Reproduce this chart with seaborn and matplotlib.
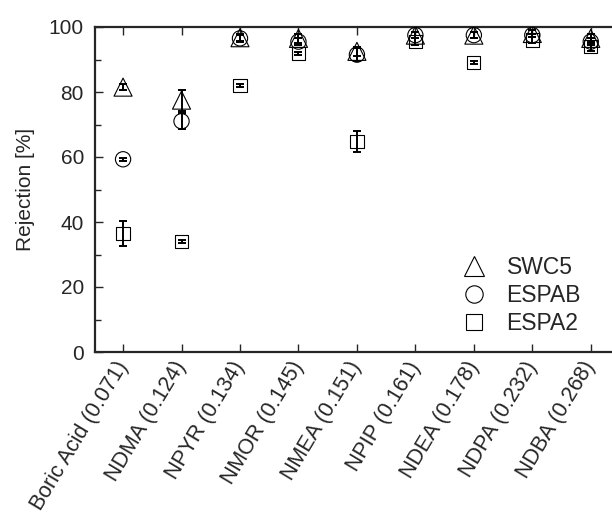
import matplotlib
matplotlib.use("Agg")
import matplotlib.pyplot as plt
from matplotlib.lines import Line2D
from matplotlib.ticker import MultipleLocator
import seaborn as sns
import pandas as pd

compounds = ["Boric Acid (0.071)", "NDMA (0.124)", "NPYR (0.134)", "NMOR (0.145)",
             "NMEA (0.151)", "NPIP (0.161)", "NDEA (0.178)", "NDPA (0.232)", "NDBA (0.268)"]
series = ["SWC5", "ESPAB", "ESPA2"]

swc5 = [81.5, 77.5, 96.7, 96.5, 92.5, 97.5, 97.5, 98.0, 96.5]
espab = [59.3, 71.0, 96.5, 95.5, 91.5, 97.5, 97.5, 97.5, 95.5]
espa2 = [36.5, 34.0, 82.0, 91.8, 64.7, 95.5, 89.0, 96.0, 94.0]

swc5_err = [1.0, 3.2, 1.0, 1.5, 1.5, 1.0, 1.0, 1.0, 1.5]
espab_err = [0.5, 2.5, 1.0, 1.0, 2.0, 1.0, 1.0, 0.5, 1.0]
espa2_err = [3.8, 0.5, 0.5, 0.5, 3.2, 1.0, 0.5, 1.0, 1.5]

rows = []
for name, vals, errs in [("SWC5", swc5, swc5_err), ("ESPAB", espab, espab_err), ("ESPA2", espa2, espa2_err)]:
    for i, c in enumerate(compounds):
        rows.append({"compound": c, "pos": i, "series": name, "rejection": vals[i], "err": errs[i]})
df = pd.DataFrame(rows)

sns.set_theme(style="ticks")
plt.rcParams["font.family"] = ["Liberation Sans", "DejaVu Sans"]

fig = plt.figure(figsize=(6.12, 5.19), dpi=100)
ax = fig.add_axes([95 / 612, 167 / 519, 525 / 612, 325 / 519])

marker_map = {"SWC5": "^", "ESPAB": "o", "ESPA2": "s"}
size_map = {"SWC5": 13, "ESPAB": 11, "ESPA2": 9.5}

for name in series:
    sub = df[df["series"] == name]
    ax.errorbar(sub["pos"], sub["rejection"], yerr=sub["err"], fmt="none",
                ecolor="black", elinewidth=1.4, capsize=3, capthick=1.4, zorder=3)
    sns.scatterplot(data=sub, x="pos", y="rejection", marker=marker_map[name],
                    s=size_map[name] ** 2, ax=ax, zorder=4, legend=False)
    coll = ax.collections[-1]
    coll.set_facecolor("none")
    coll.set_edgecolor("black")
    coll.set_linewidth(0.8)

ax.set_xlim(-0.48, 8.5)
ax.set_ylim(0, 100)
ax.set_xticks(range(len(compounds)))
ax.set_xticklabels(compounds, rotation=59, ha="right", va="center", rotation_mode="anchor", fontsize=15.5)
ax.yaxis.set_major_locator(MultipleLocator(20))
ax.yaxis.set_minor_locator(MultipleLocator(10))
ax.tick_params(axis="y", which="major", direction="in", length=6, width=1, labelsize=15, pad=8)
ax.tick_params(axis="y", which="minor", direction="in", length=4, width=1)
ax.tick_params(axis="x", which="major", direction="in", length=6, width=1, top=True, pad=8)
ax.set_xlabel("")
ax.set_ylabel("Rejection [%]", fontsize=15, labelpad=10)

for s in ax.spines.values():
    s.set_linewidth(1.6)

handles = [Line2D([], [], marker=marker_map[n], linestyle="none", markerfacecolor="none",
                  markeredgecolor="black", markeredgewidth=0.8, markersize=size_map[n] + 1.5)
           for n in series]
ax.legend(handles, series, loc="lower right", bbox_to_anchor=(0.965, -0.01), frameon=False,
          fontsize=16.5, handletextpad=0.8, labelspacing=0.22, handlelength=1.2)

fig.savefig("out.png", dpi=100)
